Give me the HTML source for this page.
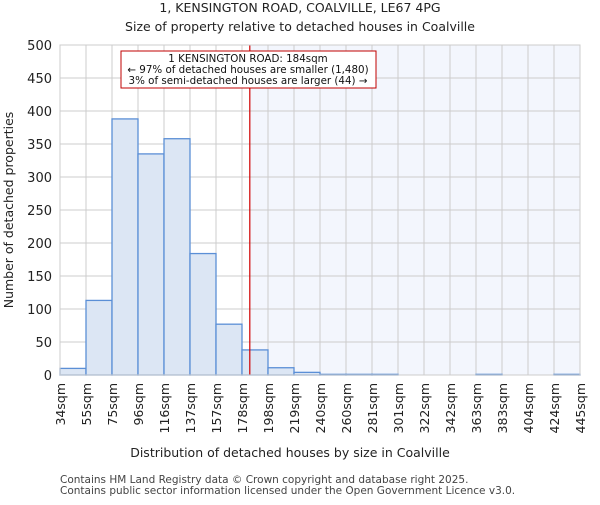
<!DOCTYPE html>
<html><head><meta charset="utf-8"><style>
body{margin:0;background:#fff;font-family:"Liberation Sans","DejaVu Sans",sans-serif}
</style></head><body>
<svg width="600" height="500" xmlns="http://www.w3.org/2000/svg" font-family="DejaVu Sans, Liberation Sans, sans-serif">
<text x="300" y="12" text-anchor="middle" font-size="12.5" fill="#222">1, KENSINGTON ROAD, COALVILLE, LE67 4PG</text>
<text x="300" y="31" text-anchor="middle" font-size="12.5" fill="#222">Size of property relative to detached houses in Coalville</text>
<g id="plot"></g>
<text x="290" y="457" text-anchor="middle" font-size="12.5" fill="#222">Distribution of detached houses by size in Coalville</text>
<text transform="translate(13,210) rotate(-90)" text-anchor="middle" font-size="12.5" fill="#222">Number of detached properties</text>
<text x="60" y="483" font-size="10.5" fill="#444">Contains HM Land Registry data © Crown copyright and database right 2025.</text>
<text x="60" y="494" font-size="10.5" fill="#444">Contains public sector information licensed under the Open Government Licence v3.0.</text>
</svg>
<script>
const edgeLabels=["34sqm","55sqm","75sqm","96sqm","116sqm","137sqm","157sqm","178sqm","198sqm","219sqm","240sqm","260sqm","281sqm","301sqm","322sqm","342sqm","363sqm","383sqm","404sqm","424sqm","445sqm"];
const counts=[10,113,388,335,358,184,77,38,11,4,1,1,1,0,0,0,1,0,0,1];
const yTicks=[0,50,100,150,200,250,300,350,400,450,500];
const markerBin=7.3;
const NS="http://www.w3.org/2000/svg";
const L=60,R=580,T=45,B=375,yMax=500;
const bw=(R-L)/counts.length;
const xs=i=>L+i*bw, ys=v=>B-v/yMax*(B-T);
const g=document.getElementById('plot');
function mk(t,a){const e=document.createElementNS(NS,t);for(const k in a)e.setAttribute(k,a[k]);g.appendChild(e);return e;}
const mx=xs(markerBin);
let e=mk('rect',{x:mx,y:T,width:R-mx,height:B-T,fill:'#f3f6fd'});


yTicks.forEach(v=>{const l=mk('line',{x1:L,x2:R,y1:ys(v),y2:ys(v),stroke:'#cccccc'});


const t=mk('text',{x:L-8,y:ys(v)+5,'text-anchor':'end','font-size':'13',fill:'#222'});t.textContent=v;

});
edgeLabels.forEach((s,i)=>{const l=mk('line',{x1:xs(i),x2:xs(i),y1:T,y2:B,stroke:'#cccccc'});


const t=mk('text',{transform:`translate(${xs(i)+5},${B+8}) rotate(-90)`,'text-anchor':'end','font-size':'12.5',fill:'#222'});t.textContent=s;

});
counts.forEach((v,i)=>{if(v<=0)return;const r=mk('rect',{x:xs(i),y:ys(v),width:bw,height:B-ys(v),fill:'#dce6f4',stroke:'#5b8fd6','stroke-width':1.3});

});
e=mk('line',{x1:mx,x2:mx,y1:T,y2:B,stroke:'#d00000','stroke-width':1.2});


e=mk('rect',{x:121,y:51,width:255,height:37,fill:'#fff',stroke:'#c00000','stroke-width':1});


["1 KENSINGTON ROAD: 184sqm","← 97% of detached houses are smaller (1,480)","3% of semi-detached houses are larger (44) →"].forEach((s,i)=>{const t=mk('text',{x:248,y:62+i*11,'text-anchor':'middle','font-size':'10.3',fill:'#111'});t.textContent=s;

});
e=mk('rect',{x:L,y:T,width:R-L,height:B-T,fill:'none',stroke:'#cccccc'});


</script>
</body></html>
